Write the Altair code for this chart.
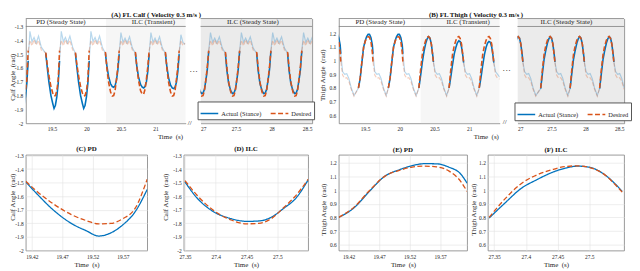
import altair as alt
import pandas as pd

BLUE = "#0072BD"
ORANGE = "#D95319"
FONT = "Liberation Serif"
FRAME = "#7f7f7f"
TXT = "#262626"
KINDS = ["Actual (Stance)", "Desired"]

CALF_OFF = [0, 0.02, 0.045, 0.075, 0.1, 0.12, 0.14, 0.16, 0.18, 0.2]
THIGH_OFF = [0, 0.025, 0.05, 0.075, 0.1, 0.12, 0.14, 0.16, 0.18, 0.2, 0.21]
SWING_OFF = [0.025, 0.055, 0.085, 0.115, 0.15, 0.19]

CALF_START_L = [18.955, 19.41, 19.84, 20.275, 20.71, 21.145]
CALF_START_R = [26.915, 27.35, 27.79, 28.225]
THIGH_START_L = [18.94, 19.404, 19.835, 20.275, 20.71, 21.145]
THIGH_START_R = [26.87, 27.342, 27.775, 28.21]

CALF_PD_ACT = [-1.495, -1.59, -1.70, -1.80, -1.855, -1.893, -1.87, -1.81, -1.715, -1.55]
CALF_PD_DES = [-1.49, -1.57, -1.655, -1.735, -1.78, -1.803, -1.80, -1.765, -1.69, -1.475]
CALF_T3_ACT = [-1.495, -1.58, -1.66, -1.715, -1.735, -1.74, -1.73, -1.69, -1.62, -1.50]
CALF_T4_ACT = [-1.495, -1.585, -1.665, -1.72, -1.74, -1.745, -1.735, -1.70, -1.625, -1.50]
CALF_T5_ACT = [-1.495, -1.585, -1.67, -1.725, -1.745, -1.75, -1.74, -1.705, -1.63, -1.50]
CALF_T4_DES = [-1.485, -1.59, -1.69, -1.765, -1.79, -1.79, -1.755, -1.68, -1.59, -1.475]
CALF_ILC_ACT = [-1.495, -1.615, -1.71, -1.765, -1.785, -1.782, -1.755, -1.69, -1.615, -1.48]
CALF_ILC_DES = [-1.485, -1.595, -1.70, -1.775, -1.803, -1.80, -1.765, -1.685, -1.595, -1.475]
CALF_SW_PD = [-1.335, -1.41, -1.38, -1.42, -1.37, -1.45]
CALF_SW_ILC = [-1.345, -1.415, -1.385, -1.42, -1.375, -1.455]
CALF_SW_DES = [-1.40, -1.44, -1.395, -1.435, -1.40, -1.47]
CALF_SW_LAST_ACT = [-1.36, -1.415, -1.43]
CALF_SW_LAST_DES = [-1.40, -1.44, -1.42]
CALF_SW_END_ACT = [-1.345, -1.415, -1.385, -1.42, -1.375]
CALF_SW_END_DES = [-1.40, -1.44, -1.395, -1.435, -1.40]

THIGH_PD_ACT = [0.80, 0.87, 0.99, 1.10, 1.15, 1.178, 1.193, 1.192, 1.168, 1.115, 1.05]
THIGH_PD_DES = [0.80, 0.875, 0.995, 1.10, 1.145, 1.168, 1.175, 1.17, 1.14, 1.06, 0.99]
THIGH_T3_ACT = [0.80, 0.89, 0.99, 1.07, 1.13, 1.16, 1.175, 1.165, 1.12, 1.04, 0.99]
THIGH_T4_ACT = [0.80, 0.88, 0.97, 1.05, 1.10, 1.13, 1.145, 1.14, 1.10, 1.03, 0.985]
THIGH_T5_ACT = [0.80, 0.875, 0.965, 1.045, 1.10, 1.128, 1.14, 1.135, 1.10, 1.03, 0.985]
THIGH_ILC_ACT = [0.795, 0.905, 1.01, 1.075, 1.13, 1.16, 1.175, 1.165, 1.12, 1.04, 0.99]
THIGH_ILC_DES = [0.80, 0.935, 1.045, 1.11, 1.15, 1.172, 1.177, 1.163, 1.12, 1.035, 0.985]
THIGH_SW_ACT = [0.92, 0.90, 0.905, 0.87, 0.80, 0.745]
THIGH_SW_DES = [0.895, 0.87, 0.875, 0.85, 0.79, 0.74]
THIGH_SW_LAST_ACT = [0.92, 0.90, 0.88]
THIGH_SW_LAST_DES = [0.895, 0.87, 0.865]
THIGH_SW_END_ACT = [0.92, 0.90, 0.905, 0.87, 0.80]
THIGH_SW_END_DES = [0.895, 0.87, 0.875, 0.85, 0.79]

CALF_TICKS = [-2, -1.9, -1.8, -1.7, -1.6, -1.5, -1.4, -1.3]
THIGH_TICKS = [0.6, 0.7, 0.8, 0.9, 1.0, 1.1, 1.2]
TIME_TICKS_L = [19.5, 20, 20.5, 21]
TIME_TICKS_R = [27, 27.5, 28, 28.5]
ZOOM_TICKS_PD = [19.42, 19.47, 19.52, 19.57]
ZOOM_TICKS_ILC = [27.35, 27.4, 27.45, 27.5]

PHASE_TRANSIENT_START_A = 20.285
PHASE_TRANSIENT_START_B = 20.30
LEFT_DOMAIN = [19.12, 21.44]
RIGHT_DOMAIN = [27.0, 28.57]


def build(starts, off, act, des, sw_act, sw_des):
    rows = []
    n = len(starts)
    for i, s in enumerate(starts):
        for o, a, d in zip(off, act[i], des[i]):
            rows.append(dict(t=s + o, v=a, seg=f"s{i}", kind=KINDS[0], phase="stance"))
            rows.append(dict(t=s + o, v=d, seg=f"s{i}", kind=KINDS[1], phase="stance"))
        end = s + off[-1]
        for kind, vals, last, nxt in ((KINDS[0], sw_act[i], act[i][-1], act), (KINDS[1], sw_des[i], des[i][-1], des)):
            pts = [(end, last)] + [(end + o, v) for o, v in zip(SWING_OFF, vals)]
            if i + 1 < n:
                pts.append((starts[i + 1], nxt[i + 1][0]))
            for t, v in pts:
                rows.append(dict(t=t, v=v, seg=f"w{i}", kind=kind, phase="swing"))
    return pd.DataFrame(rows)


calf_L = build(CALF_START_L, CALF_OFF,
               [CALF_PD_ACT, CALF_PD_ACT, CALF_PD_ACT, CALF_T3_ACT, CALF_T4_ACT, CALF_T5_ACT],
               [CALF_PD_DES, CALF_PD_DES, CALF_PD_DES, CALF_ILC_DES, CALF_T4_DES, CALF_ILC_DES],
               [CALF_SW_PD, CALF_SW_PD, CALF_SW_PD, CALF_SW_ILC, CALF_SW_ILC, CALF_SW_LAST_ACT],
               [CALF_SW_DES, CALF_SW_DES, CALF_SW_DES, CALF_SW_DES, CALF_SW_DES, CALF_SW_LAST_DES])
calf_R = build(CALF_START_R, CALF_OFF,
               [CALF_ILC_ACT, CALF_ILC_ACT, CALF_ILC_ACT, CALF_ILC_ACT],
               [CALF_ILC_DES, CALF_ILC_DES, CALF_ILC_DES, CALF_ILC_DES],
               [CALF_SW_ILC, CALF_SW_ILC, CALF_SW_ILC, CALF_SW_END_ACT],
               [CALF_SW_DES, CALF_SW_DES, CALF_SW_DES, CALF_SW_END_DES])
thigh_L = build(THIGH_START_L, THIGH_OFF,
                [THIGH_PD_ACT, THIGH_PD_ACT, THIGH_PD_ACT, THIGH_T3_ACT, THIGH_T4_ACT, THIGH_T5_ACT],
                [THIGH_PD_DES, THIGH_PD_DES, THIGH_PD_DES, THIGH_ILC_DES, THIGH_ILC_DES, THIGH_ILC_DES],
                [THIGH_SW_ACT, THIGH_SW_ACT, THIGH_SW_ACT, THIGH_SW_ACT, THIGH_SW_ACT, THIGH_SW_LAST_ACT],
                [THIGH_SW_DES, THIGH_SW_DES, THIGH_SW_DES, THIGH_SW_DES, THIGH_SW_DES, THIGH_SW_LAST_DES])
thigh_R = build(THIGH_START_R, THIGH_OFF,
                [THIGH_ILC_ACT, THIGH_ILC_ACT, THIGH_ILC_ACT, THIGH_ILC_ACT],
                [THIGH_ILC_DES, THIGH_ILC_DES, THIGH_ILC_DES, THIGH_ILC_DES],
                [THIGH_SW_ACT, THIGH_SW_ACT, THIGH_SW_ACT, THIGH_SW_END_ACT],
                [THIGH_SW_DES, THIGH_SW_DES, THIGH_SW_DES, THIGH_SW_END_DES])

HY = "datum.value < 0 ? '-' + format(-datum.value, '~g') : format(datum.value, '~g')"
H_TOP = 106
H_BOT = 97


def color_enc(legend):
    return alt.Color("kind:N", scale=alt.Scale(domain=KINDS, range=[BLUE, ORANGE]), legend=legend)


def dash_enc(legend):
    return alt.StrokeDash("kind:N", scale=alt.Scale(domain=KINDS, range=[[1, 0], [5, 2.5]]), legend=legend)


def top_sub(df, xdom, w, ydom, sep, yvals, xvals, shades, heads, left,
            ytitle="", ytx=0, yty=0, xtx=0, legxy=None, extra=None):
    xs = alt.Scale(domain=xdom, nice=False, zero=False)
    ys = alt.Scale(domain=ydom, nice=False, zero=False)
    if left:
        yax = alt.Axis(values=yvals, labelExpr=HY, labelPadding=3, title=ytitle, titleX=ytx, titleY=yty,
                       titleAngle=270, titleBaseline="bottom", titleAlign="center", grid=False, ticks=False)
        xax = alt.Axis(values=xvals, format="~g", labelPadding=3, title="Time \u00a0(s)", titleX=xtx,
                       titleY=9, titleBaseline="top", titleAlign="center", grid=False, ticks=False)
    else:
        yax = alt.Axis(orient="right", values=yvals, labels=False, ticks=False, title=None, grid=False)
        xax = alt.Axis(values=xvals, format="~g", labelPadding=3, title=None, grid=False, ticks=False)
    X = alt.X("t:Q", scale=xs, axis=xax)
    Y = alt.Y("v:Q", scale=ys, axis=yax)
    layers = []
    layers.append(alt.Chart(pd.DataFrame(shades)).mark_rect(clip=True).encode(
        x=alt.X("a:Q", scale=xs, axis=xax), x2="b:Q", y=alt.value(0), y2=alt.value(H_TOP),
        color=alt.Color("c:N", scale=None)))
    layers.append(alt.Chart(pd.DataFrame({"v": [ydom[1], sep]})).mark_rule(color=FRAME, strokeWidth=0.8).encode(y=Y))
    sw = df[df.phase == "swing"]
    layers.append(alt.Chart(sw[sw.kind == KINDS[0]]).mark_line(clip=True, color=BLUE, opacity=0.28, strokeWidth=1.2).encode(
        x=X, y=Y, detail="seg:N"))
    layers.append(alt.Chart(sw[sw.kind == KINDS[1]]).mark_line(clip=True, color=ORANGE, opacity=0.28, strokeWidth=1.2,
                                                              strokeDash=[4, 2]).encode(x=X, y=Y, detail="seg:N"))
    leg = None
    if legxy is not None:
        leg = alt.Legend(title=None, orient="none", legendX=legxy[0], legendY=legxy[1], direction="horizontal",
                         symbolType="stroke", symbolSize=320, symbolStrokeWidth=1.6, labelFont=FONT,
                         labelFontSize=6.5, labelColor=TXT, padding=2, strokeColor="#555", fillColor="white",
                         columnPadding=5, labelOffset=2, cornerRadius=0)
    layers.append(alt.Chart(df[df.phase == "stance"]).mark_line(clip=True, strokeWidth=1.6).encode(
        x=X, y=Y, detail="seg:N", color=color_enc(leg), strokeDash=dash_enc(leg)))
    layers.append(alt.Chart(pd.DataFrame(heads)).mark_text(font=FONT, fontSize=7, color=TXT).encode(
        x=X, y=Y, text="s:N"))
    if extra:
        for (s, bx, by, fs, fw, base) in extra:
            layers.append(alt.Chart(pd.DataFrame({"s": [s]})).mark_text(
                font=FONT, fontSize=fs, fontWeight=fw, color="#111", baseline=base).encode(
                x=alt.value(bx), y=alt.value(by), text="s:N"))
    return alt.layer(*layers).properties(width=w, height=H_TOP)


def zoom_panel(start, off, act, des, xdom, w, ydom, yvals, xvals, title, ytitle, ytx, yty):
    rows = []
    for o, a, d in zip(off, act, des):
        rows.append(dict(t=start + o, v=a, kind=KINDS[0]))
        rows.append(dict(t=start + o, v=d, kind=KINDS[1]))
    df = pd.DataFrame(rows)
    xs = alt.Scale(domain=xdom, nice=False, zero=False)
    ys = alt.Scale(domain=ydom, nice=False, zero=False)
    xax = alt.Axis(values=xvals, format="~g", labelPadding=4, title="Time \u00a0(s)", titleY=10,
                   titleBaseline="top", grid=True, gridColor="#e2e2e2", gridWidth=0.6, domain=False, ticks=False)
    yax = alt.Axis(values=yvals, labelExpr=HY, labelPadding=2.5, title=ytitle, titleX=ytx, titleY=yty,
                   titleAngle=270, titleBaseline="bottom", titleAlign="center", grid=True, gridColor="#e2e2e2",
                   gridWidth=0.6, domain=False, ticks=False)
    ch = alt.Chart(df).mark_line(clip=True, strokeWidth=1.3, interpolate="monotone").encode(
        x=alt.X("t:Q", scale=xs, axis=xax), y=alt.Y("v:Q", scale=ys, axis=yax),
        color=color_enc(None), strokeDash=dash_enc(None))
    return ch.properties(width=w, height=H_BOT, title=alt.TitleParams(title, offset=2),
                         view=alt.ViewBackground(stroke=FRAME, strokeWidth=0.8))


def spacer(w):
    return alt.Chart(pd.DataFrame({"a": [0]})).mark_point(opacity=0).properties(width=w, height=10)


def indep(c):
    return c.resolve_scale(x="independent", y="independent", color="independent", strokeDash="independent")


A_l = top_sub(calf_L, LEFT_DOMAIN, 162, [-2.0, -1.243], -1.3, CALF_TICKS, TIME_TICKS_L,
              {"a": [PHASE_TRANSIENT_START_A], "b": [LEFT_DOMAIN[1]], "c": ["#f6f6f6"]},
              {"t": [19.63, 20.97], "v": [-1.271, -1.271], "s": ["PD (Steady State)", "ILC (Transient)"]},
              True, ytitle="Calf Angle \u00a0(rad)", ytx=-10, yty=59, xtx=146,
              extra=[("\u00b7\u00b7\u00b7", 170, 53, 9, "normal", "middle"), ("//", 166, 106, 7, "normal", "middle"),
                     ("(A) FL Calf ( Velocity 0.3 m/s )", 132, -1, 7, "bold", "bottom")])
A_r = top_sub(calf_R, RIGHT_DOMAIN, 113, [-2.0, -1.243], -1.3, CALF_TICKS, TIME_TICKS_R,
              {"a": [RIGHT_DOMAIN[0]], "b": [RIGHT_DOMAIN[1]], "c": ["#ebebeb"]},
              {"t": [27.736], "v": [-1.271], "s": ["ILC (Steady State)"]},
              False, legxy=(-3, 84))
B_l = top_sub(thigh_L, LEFT_DOMAIN, 163, [0.542, 1.308], 1.25, THIGH_TICKS, TIME_TICKS_L,
              {"a": [PHASE_TRANSIENT_START_B], "b": [LEFT_DOMAIN[1]], "c": ["#f6f6f6"]},
              {"t": [19.718, 20.985], "v": [1.279, 1.279], "s": ["PD (Steady State)", "ILC (Transient)"]},
              True, ytitle="Thigh Angle \u00a0(rad)", ytx=-13, yty=57, xtx=149,
              extra=[("\u00b7\u00b7\u00b7", 170, 52, 9, "normal", "middle"), ("//", 168, 105, 7, "normal", "middle"),
                     ("(B) FL Thigh ( Velocity 0.3 m/s )", 139, -1, 7, "bold", "bottom")])
B_r = top_sub(thigh_R, RIGHT_DOMAIN, 108, [0.542, 1.308], 1.25, THIGH_TICKS, TIME_TICKS_R,
              {"a": [RIGHT_DOMAIN[0]], "b": [RIGHT_DOMAIN[1]], "c": ["#ebebeb"]},
              {"t": [27.72], "v": [1.279], "s": ["ILC (Steady State)"]},
              False, legxy=(-3, 85))

C = zoom_panel(CALF_START_L[1], CALF_OFF, CALF_PD_ACT, CALF_PD_DES, [19.41, 19.61], 123, [-2.0, -1.295],
               CALF_TICKS, ZOOM_TICKS_PD, "(C) PD", "Calf Angle \u00a0(rad)", -10, 42.5)
D = zoom_panel(CALF_START_R[1], CALF_OFF, CALF_ILC_ACT, CALF_ILC_DES, [27.348, 27.55], 126, [-2.0, -1.295],
               CALF_TICKS, ZOOM_TICKS_ILC, "(D) ILC", "Calf Angle \u00a0(rad)", -15, 42.5)
E = zoom_panel(THIGH_START_L[1], THIGH_OFF, THIGH_PD_ACT, THIGH_PD_DES, [19.404, 19.614], 130, [0.557, 1.258],
               THIGH_TICKS, ZOOM_TICKS_PD, "(E) PD", "Thigh Angle \u00a0(rad)", -12, 55)
F = zoom_panel(THIGH_START_R[1], THIGH_OFF, THIGH_ILC_ACT, THIGH_ILC_DES, [27.34, 27.555], 138, [0.557, 1.258],
               THIGH_TICKS, ZOOM_TICKS_ILC, "(F) ILC", "Thigh Angle \u00a0(rad)", -11, 55)

top = indep(alt.hconcat(A_l, spacer(15), A_r, spacer(27), B_l, spacer(18), B_r, spacing=0, bounds="flush"))
bottom = indep(alt.hconcat(C, spacer(37), D, spacer(31), E, spacer(21), F, spacing=0, bounds="flush"))

chart = indep(alt.vconcat(top, bottom, spacing=4)).configure_view(
    stroke="transparent"
).configure_axis(
    labelFont=FONT, titleFont=FONT, labelFontSize=5.5, titleFontSize=7, titleFontWeight="normal",
    labelColor=TXT, titleColor=TXT, domainColor=FRAME, domainWidth=0.8
).configure_title(
    font=FONT, fontSize=7, fontWeight="bold", color="#111"
).properties(padding=0, background="white")

chart.save("out.html", embed_options={"renderer": "svg", "actions": False})
